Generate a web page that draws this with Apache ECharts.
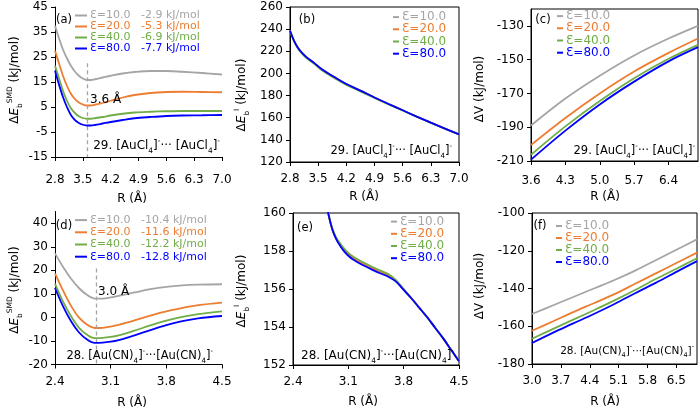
<!DOCTYPE html>
<html><head><meta charset="utf-8">
<script src="https://cdn.jsdelivr.net/npm/echarts@6/dist/echarts.min.js"></script>
<style>html,body{margin:0;padding:0;background:#fff}#c{width:700px;height:417px}</style>
</head><body><div id="c"></div>
<script>
// ---------- data ----------
const EPS = ['Ɛ=10.0', 'Ɛ=20.0', 'Ɛ=40.0', 'Ɛ=80.0'];
const BIND_A = ['-2.9 kJ/mol', '-5.3 kJ/mol', '-6.9 kJ/mol', '-7.7 kJ/mol'];
const BIND_D = ['-10.4 kJ/mol', '-11.6 kJ/mol', '-12.2 kJ/mol', '-12.8 kJ/mol'];

// (a) ΔEb SMD, [AuCl4]- dimer
const R_A = [2.8, 2.9, 3.0, 3.1, 3.2, 3.3, 3.4, 3.5, 3.6, 3.7, 3.8, 4.0, 4.2, 4.5, 4.8, 5.2, 5.6, 6.0, 6.5, 7.0];
const A_E10 = [37.5, 32.5, 28.0, 24.5, 21.5, 19.2, 17.5, 16.4, 15.8, 15.8, 16.1, 16.8, 17.5, 18.4, 19.0, 19.4, 19.4, 19.1, 18.6, 18.0];
const A_E20 = [27.5, 22.5, 17.5, 13.5, 10.3, 8.2, 6.8, 6.0, 5.6, 5.6, 5.9, 6.6, 7.5, 8.8, 9.8, 10.6, 11.0, 11.1, 11.0, 10.9];
const A_E40 = [21.5, 16.5, 11.5, 7.5, 4.5, 2.6, 1.3, 0.6, 0.3, 0.3, 0.5, 1.0, 1.6, 2.3, 2.8, 3.1, 3.3, 3.4, 3.4, 3.4];
const A_E80 = [19.5, 14.0, 9.0, 5.0, 1.8, -0.2, -1.4, -2.1, -2.4, -2.4, -2.2, -1.6, -1.0, -0.2, 0.5, 1.0, 1.4, 1.6, 1.7, 1.8];
const A_MIN_R = 3.6, A_MARK_TOP = 22.5;

// (b) ΔEb I
const R_B = [2.8, 2.9, 3.0, 3.1, 3.2, 3.4, 3.6, 3.9, 4.2, 4.55, 4.9, 5.25, 5.6, 5.95, 6.3, 6.65, 7.0];
const B_E10 = [238.5, 229.5, 223.0, 218.5, 215.0, 209.5, 203.5, 196.8, 190.5, 184.5, 178.3, 172.4, 166.7, 161.0, 155.5, 150.2, 145.0];
const B_E20 = [238.5, 229.5, 223.0, 218.4, 214.8, 209.3, 203.3, 196.6, 190.3, 184.3, 178.2, 172.4, 166.7, 161.0, 155.5, 150.2, 145.0];
const B_E40 = [238.5, 229.4, 222.6, 217.8, 214.1, 208.6, 202.7, 196.0, 189.7, 183.8, 177.8, 172.1, 166.5, 160.9, 155.4, 150.1, 145.0];
const B_E80 = [238.5, 229.5, 223.0, 218.5, 215.0, 209.5, 203.5, 196.8, 190.5, 184.5, 178.3, 172.4, 166.7, 161.0, 155.5, 150.2, 145.0];

// (c) ΔV
const R_C = [3.6, 4.3, 5.0, 5.7, 6.4, 7.0];
const C_E10 = [-189.0, -173.0, -159.5, -147.5, -137.5, -130.0];
const C_E20 = [-200.5, -184.5, -170.0, -157.0, -146.0, -137.5];
const C_E40 = [-206.3, -189.5, -174.5, -161.0, -149.5, -141.2];
const C_E80 = [-209.2, -192.0, -176.5, -163.0, -151.0, -142.6];

// (d) ΔEb SMD, [Au(CN)4]- dimer
const R_D = [2.4, 2.5, 2.6, 2.7, 2.8, 2.9, 3.0, 3.1, 3.2, 3.4, 3.6, 3.8, 4.0, 4.2, 4.5];
const D_E10 = [27.2, 21.5, 16.5, 12.5, 9.6, 8.0, 8.0, 8.5, 9.2, 10.6, 12.0, 13.0, 13.6, 13.9, 14.1];
const D_E20 = [18.7, 11.5, 5.0, 0.0, -3.0, -4.5, -4.4, -3.9, -3.2, -1.3, 0.8, 2.6, 4.0, 5.2, 6.3];
const D_E40 = [14.4, 6.8, 0.6, -4.3, -7.3, -8.8, -8.7, -8.3, -7.6, -5.6, -3.4, -1.4, 0.2, 1.4, 2.6];
const D_E80 = [12.5, 4.8, -1.5, -6.3, -9.3, -10.8, -10.7, -10.3, -9.6, -7.6, -5.4, -3.3, -1.6, -0.4, 0.6];
const D_MIN_R = 2.92, D_MARK_TOP = 20.8;

// (e) ΔEb I
const R_E = [2.7, 2.8, 2.85, 2.9, 2.95, 3.0, 3.05, 3.1, 3.15, 3.2, 3.3, 3.4, 3.5, 3.6, 3.7, 3.8, 3.9, 4.0, 4.1, 4.2, 4.3, 4.4, 4.5];
const E_E10 = [163.5, 161.0, 159.9, 159.1, 158.62, 158.3, 158.02, 157.8, 157.63, 157.5, 157.27, 157.07, 156.88, 156.7, 156.42, 155.97, 155.5, 155.0, 154.5, 153.95, 153.4, 152.8, 152.2];
const E_E20 = [163.5, 161.0, 159.9, 159.1, 158.63, 158.32, 158.05, 157.83, 157.66, 157.53, 157.3, 157.1, 156.91, 156.73, 156.44, 155.97, 155.5, 155.0, 154.5, 153.95, 153.4, 152.8, 152.2];
const E_E40 = [163.5, 161.0, 159.95, 159.15, 158.68, 158.38, 158.11, 157.9, 157.74, 157.61, 157.38, 157.17, 156.98, 156.8, 156.48, 155.99, 155.5, 155.0, 154.5, 153.95, 153.4, 152.8, 152.2];
const E_E80 = [163.5, 161.0, 159.9, 159.1, 158.6, 158.25, 157.97, 157.75, 157.58, 157.45, 157.22, 157.02, 156.83, 156.66, 156.4, 155.95, 155.5, 155.0, 154.5, 153.95, 153.4, 152.8, 152.2];

// (f) ΔV
const R_F = [3.0, 3.5, 4.0, 4.5, 5.0, 5.5, 6.0, 6.5, 7.0];
const F_E10 = [-153.5, -149.0, -144.5, -140.0, -135.5, -130.5, -125.0, -119.5, -114.0];
const F_E20 = [-162.4, -157.5, -152.5, -147.8, -143.0, -137.5, -132.0, -126.5, -121.0];
const F_E40 = [-166.6, -161.5, -156.5, -151.5, -146.3, -140.8, -135.0, -129.5, -124.0];
const F_E80 = [-168.9, -163.5, -158.5, -153.5, -148.2, -142.5, -137.0, -131.2, -125.5];

// tick labels
const TX_AB = [2.8, 3.5, 4.2, 4.9, 5.6, 6.3, 7.0];
const TX_C = [3.6, 4.3, 5.0, 5.7, 6.4];
const TX_DE = [2.4, 3.1, 3.8, 4.5];
const TX_F = [3.0, 3.7, 4.4, 5.1, 5.8, 6.5];
const TY_A = [-15, -5, 5, 15, 25, 35, 45];
const TY_B = [120, 140, 160, 180, 200, 220, 240, 260];
const TY_C = [-210, -190, -170, -150, -130];
const TY_D = [-20, -10, 0, 10, 20, 30, 40];
const TY_E = [152, 154, 156, 158, 160];
const TY_F = [-180, -160, -140, -120, -100];

// ---------- layout / style ----------
const FONT = 'DejaVu Sans';
const COLORS = ['#A5A5A5', '#ED7D31', '#70AD47', '#0000FF'];

const panels = [
  {id: 'a', g: {left: 55, top: 7, width: 167, height: 150}, xr: [2.8, 7.0], yr: [-15, 45], tx: TX_AB, ty: TY_A, R: R_A, Y: [A_E10, A_E20, A_E40, A_E80], box: false,
   lg: {left: 75, top: 10, fs: 11, lh: 10, iw: 12, bind: BIND_A}, lm: 17},
  {id: 'b', g: {left: 290, top: 7, width: 169, height: 155}, xr: [2.8, 7.0], yr: [120, 260], tx: TX_AB, ty: TY_B, R: R_B, Y: [B_E10, B_E20, B_E40, B_E80], box: true,
   lg: {left: 393, top: 11, fs: 12, lh: 12.2, iw: 6}, lm: 11},
  {id: 'c', g: {left: 531, top: 9, width: 167, height: 152}, xr: [3.6, 7.0], yr: [-210, -120], tx: TX_C, ty: TY_C, R: R_C, Y: [C_E10, C_E20, C_E40, C_E80], box: true,
   lg: {left: 557, top: 10, fs: 12, lh: 12.2, iw: 6}, lm: 14},
  {id: 'd', g: {left: 55, top: 211.5, width: 167, height: 153}, xr: [2.4, 4.5], yr: [-20, 45], tx: TX_DE, ty: TY_D, R: R_D, Y: [D_E10, D_E20, D_E40, D_E80], box: false,
   lg: {left: 75, top: 214, fs: 11, lh: 12.2, iw: 12, bind: BIND_D}, lm: 11},
  {id: 'e', g: {left: 293, top: 213, width: 166, height: 152}, xr: [2.4, 4.5], yr: [152, 160], tx: TX_DE, ty: TY_E, R: R_E, Y: [E_E10, E_E20, E_E40, E_E80], box: true,
   lg: {left: 391, top: 215.5, fs: 12, lh: 12.2, iw: 6}, lm: 11},
  {id: 'f', g: {left: 532, top: 213, width: 165, height: 151}, xr: [3.0, 7.0], yr: [-180, -100], tx: TX_F, ty: TY_F, R: R_F, Y: [F_E10, F_E20, F_E40, F_E80], box: true,
   lg: {left: 556, top: 220, fs: 12, lh: 11.2, iw: 6}, lm: 11}
];

const grid = [], xAxis = [], yAxis = [], series = [], legend = [];
panels.forEach((p, i) => {
  grid.push(Object.assign({show: p.box, borderColor: '#000', borderWidth: 1, backgroundColor: 'transparent'}, p.g));
  const axisCommon = {
    type: 'value', gridIndex: i,
    axisLine: {show: true, onZero: false, lineStyle: {color: '#000', width: 1}},
    splitLine: {show: false}
  };
  xAxis.push(Object.assign({}, axisCommon, {
    min: p.xr[0], max: p.xr[1],
    axisTick: {show: true, customValues: p.tx, length: 4, lineStyle: {color: '#000'}},
    axisLabel: {customValues: p.tx, formatter: v => Number(v).toFixed(1), color: '#000', fontSize: 12, fontFamily: FONT, margin: p.lm}
  }));
  yAxis.push(Object.assign({}, axisCommon, {
    min: p.yr[0], max: p.yr[1],
    axisTick: {show: true, customValues: p.ty, length: 4, lineStyle: {color: '#000'}},
    axisLabel: {customValues: p.ty, formatter: v => String(Math.round(v)), color: '#000', fontSize: 12, fontFamily: FONT, margin: 7}
  }));
  const names = [];
  p.Y.forEach((ys, k) => {
    const nm = p.id + '|' + EPS[k];
    names.push(nm);
    series.push({
      name: nm, type: 'line', xAxisIndex: i, yAxisIndex: i,
      data: p.R.map((x, j) => [x, ys[j]]),
      showSymbol: false, symbol: 'none', smooth: 0.35, clip: true,
      lineStyle: {color: COLORS[k], width: 1.8}, itemStyle: {color: COLORS[k]},
      z: 2 + k, silent: true
    });
  });
  const lg = p.lg;
  legend.push({
    orient: 'vertical', left: lg.left, top: lg.top, icon: 'rect',
    itemWidth: lg.iw, itemHeight: 2, itemGap: 0, padding: 0, selectedMode: false,
    data: names.map((n, k) => ({name: n, textStyle: {color: COLORS[k]}})),
    textStyle: {fontFamily: FONT, fontSize: lg.fs, lineHeight: lg.lh, padding: [0, 0, 0, -2]},
    formatter: n => {
      const k = names.indexOf(n);
      return lg.bind ? EPS[k] + '   ' + lg.bind[k] : EPS[k];
    }
  });
});

// dashed minimum markers
series[3].markLine = {symbol: 'none', silent: true, label: {show: false},
  lineStyle: {type: [4, 3], color: '#A5A5A5', width: 1.3},
  data: [[{coord: [A_MIN_R, A_MARK_TOP]}, {coord: [A_MIN_R, TY_A[0]]}]]};
series[15].markLine = {symbol: 'none', silent: true, label: {show: false},
  lineStyle: {type: [4, 3], color: '#A5A5A5', width: 1.3},
  data: [[{coord: [D_MIN_R, D_MARK_TOP]}, {coord: [D_MIN_R, TY_D[0]]}]]};

// ---------- text graphics ----------
function richStyles(fs) {
  return {
    t: {fontFamily: FONT, fontSize: fs, lineHeight: fs + 5, fill: '#000'},
    i: {fontFamily: FONT, fontSize: fs, fontStyle: 'italic', lineHeight: fs + 5, fill: '#000'},
    sb: {fontFamily: FONT, fontSize: fs * 0.62, lineHeight: fs * 0.7, verticalAlign: 'bottom', fill: '#000'},
    sp: {fontFamily: FONT, fontSize: fs * 0.62, lineHeight: fs * 0.7, verticalAlign: 'top', fill: '#000'}
  };
}
function txt(x, y, text, fs, opts) {
  opts = opts || {};
  return {
    type: 'text', x: x, y: y, rotation: opts.rot || 0, z: 100, silent: true,
    style: {text: text, rich: richStyles(fs), fontFamily: FONT, fontSize: fs, fill: '#000',
      align: opts.align || 'left', verticalAlign: 'middle'}
  };
}
const AUCL = '{t|29. [AuCl}{sb|4}{t|]}{sp|-}{t|··· [AuCl}{sb|4}{t|]}{sp|-}';
const AUCN = '{t|28. [Au(CN)}{sb|4}{t|]}{sp|-}{t|···[Au(CN)}{sb|4}{t|]}{sp|-}';
const YT_SMD = '{t|Δ}{i|E}{sb|b}{sp|SMD}{t| (kJ/mol)}';
const YT_I = '{t|Δ}{i|E}{sb|b}{sp|I}{t| (kJ/mol)}';
const YT_V = '{t|ΔV (kJ/mol)}';
const XT = '{t|R (Å)}';
const R90 = Math.PI / 2;

const graphic = [
  txt(64, 20, '{t|(a)}', 11.5, {align: 'center'}),
  txt(307, 20, '{t|(b)}', 11.5, {align: 'center'}),
  txt(543, 20, '{t|(c)}', 11.5, {align: 'center'}),
  txt(64, 226, '{t|(d)}', 11.5, {align: 'center'}),
  txt(305, 228, '{t|(e)}', 11.5, {align: 'center'}),
  txt(540, 226, '{t|(f)}', 11.5, {align: 'center'}),
  txt(220, 146, AUCL, 12, {align: 'right'}),
  txt(452, 151, AUCL, 11.5, {align: 'right'}),
  txt(695, 151, AUCL, 11.5, {align: 'right'}),
  txt(213, 356, AUCN, 11.5, {align: 'right'}),
  txt(454, 356, AUCN, 12, {align: 'right'}),
  txt(694, 351, AUCN, 10.5, {align: 'right'}),
  txt(90, 100, '{t|3.6 Å}', 12),
  txt(98, 292, '{t|3.0 Å}', 12),
  txt(15, 80, YT_SMD, 12, {align: 'center', rot: R90}),
  txt(242, 95, YT_I, 12, {align: 'center', rot: R90}),
  txt(480, 89, YT_V, 12, {align: 'center', rot: R90}),
  txt(15, 290, YT_SMD, 12, {align: 'center', rot: R90}),
  txt(242, 291, YT_I, 12, {align: 'center', rot: R90}),
  txt(480, 286, YT_V, 12, {align: 'center', rot: R90}),
  txt(132, 199, XT, 12, {align: 'center'}),
  txt(364, 197, XT, 12, {align: 'center'}),
  txt(605, 197, XT, 12, {align: 'center'}),
  txt(132, 403, XT, 12, {align: 'center'}),
  txt(363, 402, XT, 12, {align: 'center'}),
  txt(605, 402, XT, 12, {align: 'center'})
];

const chart = echarts.init(document.getElementById('c'), null, {renderer: 'canvas'});
chart.setOption({
  animation: false,
  backgroundColor: '#fff',
  grid: grid, xAxis: xAxis, yAxis: yAxis, series: series, legend: legend, graphic: graphic
});
</script></body></html>
